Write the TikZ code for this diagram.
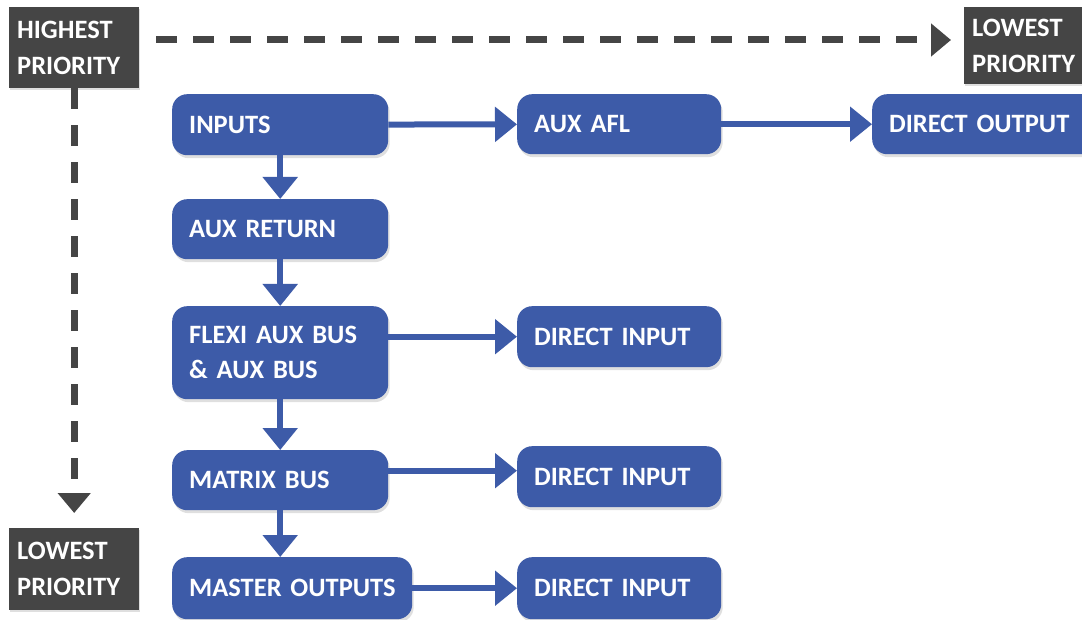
\documentclass[tikz,border=0pt]{standalone}
\usepackage{fontspec}
\setmainfont{Carlito}
\usepackage{xcolor}
\usetikzlibrary{arrows.meta,calc,positioning,shadows}

\definecolor{flowblue}{HTML}{3D5BA8}
\definecolor{priogray}{HTML}{454545}

\begin{document}
\begin{tikzpicture}[x=1pt,y=1pt,
    box/.style={anchor=north west, rounded corners=15pt, fill=flowblue, text=white,
      font=\bfseries\fontsize{26.5}{35}\selectfont, align=left, inner xsep=17pt,
      inner ysep=0pt, minimum width=216pt, text width=182pt, minimum height=60pt,
      drop shadow={shadow xshift=1.5pt, shadow yshift=-3pt, opacity=.25}},
    smallbox/.style={box, minimum width=204pt, text width=170pt},
    prio/.style={anchor=north west, fill=priogray, text=white,
      font=\bfseries\fontsize{26.5}{36}\selectfont, align=left, inner xsep=8pt,
      inner ysep=0pt, minimum width=130pt, text width=114pt,
      drop shadow={shadow xshift=1pt, shadow yshift=-2pt, opacity=.25}},
    flow/.style={draw=flowblue, line width=6pt, -{Triangle[length=22pt,width=34pt]}},
    order/.style={draw=priogray, line width=7pt, dash pattern=on 21pt off 16pt,
      -{Triangle[length=20pt,width=32pt]}}
  ]
      \useasboundingbox (0,0) rectangle (1082,-620);

      % priority labels
      \node[prio, minimum height=81pt] (high) at (9,-7) {HIGHEST\\PRIORITY} ;
      \node[prio, minimum height=77pt] (lowright) at (964,-7) {LOWEST\\PRIORITY} ;
      \node[prio, minimum height=82pt] (lowleft) at (9,-528) {LOWEST\\PRIORITY} ;

      \draw[order] ($(high.north east)+(17,-33)$) -- ($(lowright.north west)+(-13,-33)$) ;
      \draw[order, shorten >=15pt] (high.south) -- (lowleft.north) ;

      % main column
      \node[box, minimum height=61pt] (inputs) at (172,-94) {INPUTS} ;
      \node[box] (auxreturn) at (172,-199) {AUX RETURN} ;
      \node[box, minimum height=93pt] (flexi) at (172,-306) {FLEXI AUX BUS\\\& AUX BUS} ;
      \node[box] (matrix) at (172,-450) {MATRIX BUS} ;
      \node[box, minimum width=240pt, text width=206pt, minimum height=62pt] (master) at (172,-557) {\mbox{MASTER OUTPUTS}} ;

      % side outputs
      \node[smallbox] (auxafl) at (517,-94) {AUX AFL} ;
      \node[box, minimum width=232pt, text width=198pt] (directout) at (872,-94) {DIRECT OUTPUT} ;
      \node[smallbox, minimum height=61pt] (direct1) at (517,-306) {DIRECT INPUT} ;
      \node[smallbox, minimum height=61pt] (direct2) at (517,-446) {DIRECT INPUT} ;
      \node[smallbox, minimum height=62pt] (direct3) at (517,-557) {DIRECT INPUT} ;

      \draw[flow] (inputs) -- (auxreturn) ;
      \draw[flow] (auxreturn) -- (flexi) ;
      \draw[flow] (flexi) -- (matrix) ;
      \draw[flow] (matrix.south) -- (matrix.south |- master.north) ;

      \draw[flow] (inputs) -- (auxafl) ;
      \draw[flow] (auxafl) -- (directout) ;
      \draw[flow] (flexi.east |- direct1.west) -- (direct1) ;
      \draw[flow] ([yshift=6pt]matrix.east |- direct2.west) -- ([yshift=6pt]direct2.west) ;
      \draw[flow] (master) -- (direct3) ;

\end{tikzpicture}
\end{document}
